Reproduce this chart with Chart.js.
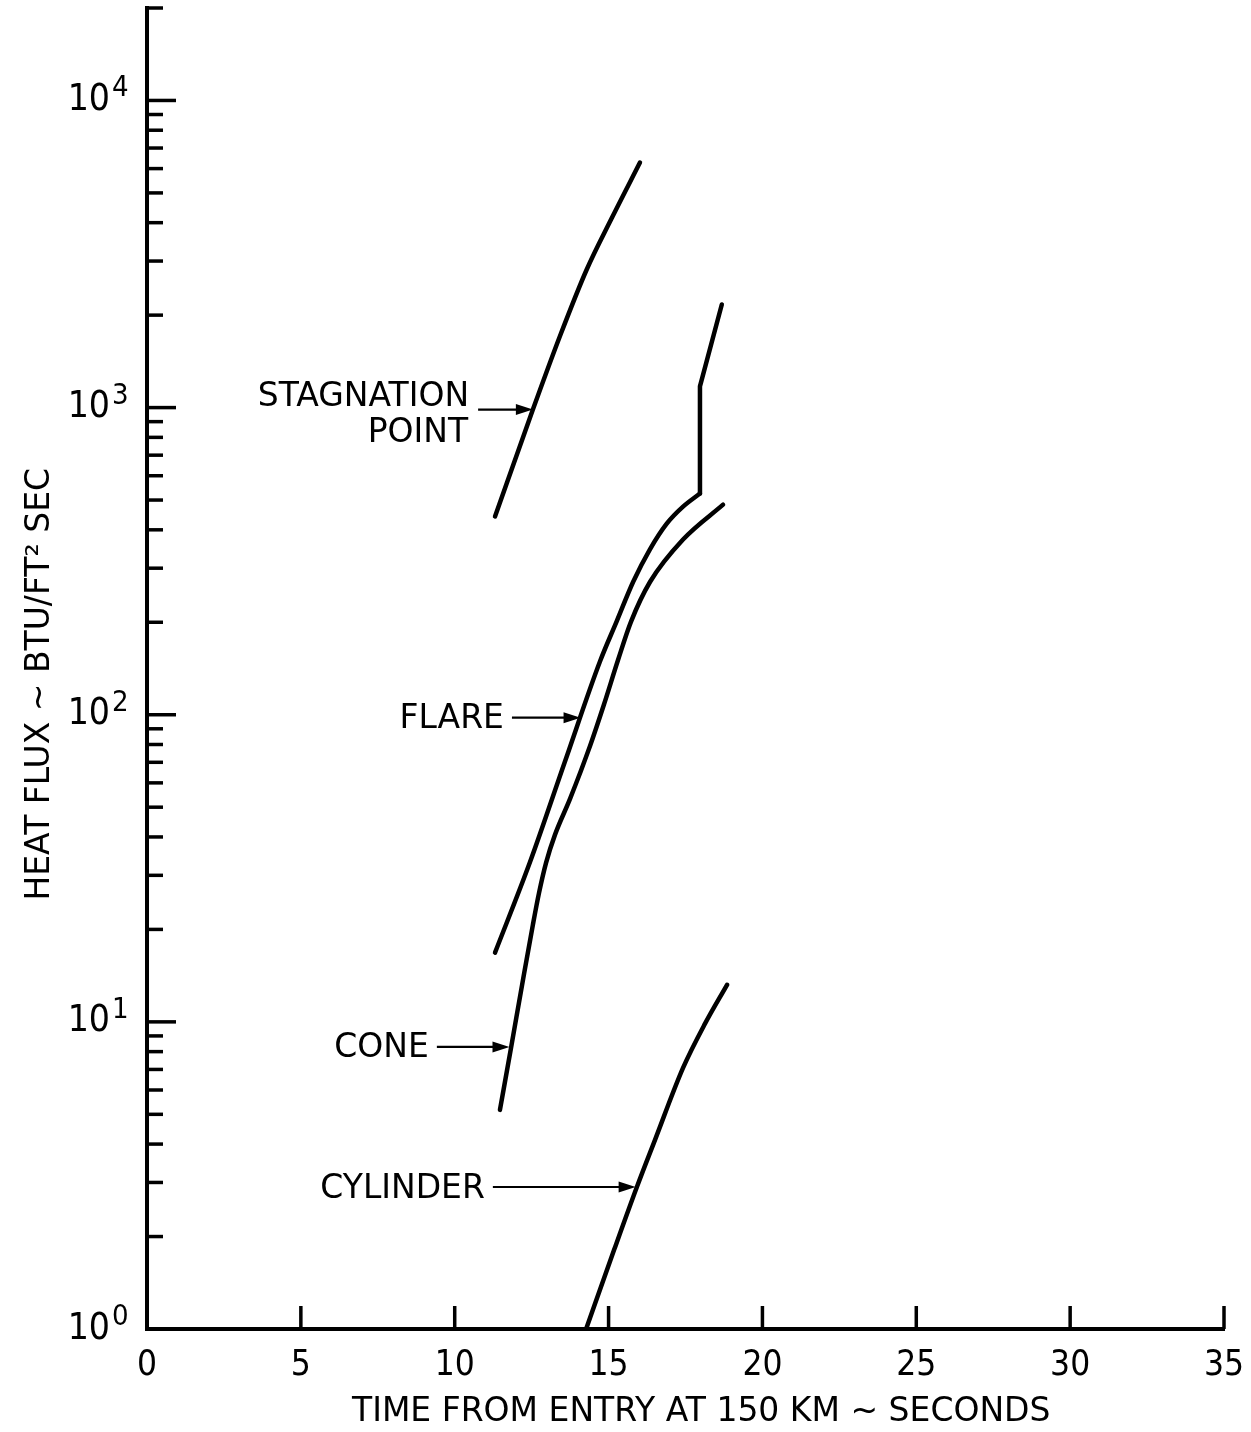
<!DOCTYPE html>
<html>
<head>
<meta charset="utf-8">
<script src="https://cdn.jsdelivr.net/npm/chart.js@4.4.1/dist/chart.umd.min.js"></script>
<style>
html,body{margin:0;padding:0;background:#fff}
canvas{display:block}
</style>
</head>
<body>
<canvas id="c" width="1251" height="1432"></canvas>
<script>
// ---- axis ticks ----
const xTickValues = [0, 5, 10, 15, 20, 25, 30, 35];
const yDecades = [1, 10, 100, 1000, 10000];
const yMinorTicks = [2,3,4,5,6,7,8,9, 20,30,40,50,60,70,80,90, 200,300,400,500,600,700,800,900,
                     2000,3000,4000,5000,6000,7000,8000,9000, 20000];

// ---- series (time s, heat flux BTU/ft^2 s) ----
const stagT = [11.31, 12.54, 13.44, 14.29, 15.08, 16.02];
const stagQ = [442, 985, 1729, 2816, 4096, 6281];

const flareT = [11.31, 12.45, 13.58, 14.72, 15.26, 15.80, 16.34, 16.89, 17.42, 17.97, 17.97, 18.68];
const flareQ = [16.8, 33.2, 70.3, 149, 201, 271, 345, 419, 476, 525, 1173, 2166];

const coneT = [11.47, 11.83, 12.19, 12.54, 12.74, 12.97, 13.26, 13.75, 14.40, 14.85, 15.31, 15.73, 16.35, 17.42, 18.72];
const coneQ = [5.17, 8.23, 13.2, 20.7, 26.3, 33.0, 40.7, 53.3, 79.3, 108, 151, 201, 271, 372, 483];

const cylT = [14.27, 15.18, 15.92, 16.51, 17.42, 18.13, 18.85];
const cylQ = [1.0, 1.81, 2.90, 4.13, 7.08, 9.85, 13.2];

// ---- callout labels ----
const labelLines = [['STAGNATION', 'POINT'], ['FLARE'], ['CONE'], ['CYLINDER']];
const arrowFromT = [10.76, 11.86, 9.42, 11.24];
const arrowToT   = [12.54, 14.09, 11.78, 15.88];
const arrowAtQ   = [985, 97.8, 8.29, 2.90];

const zip = (t, q) => t.map((v, i) => ({x: v, y: q[i]}));
const flareBend = 9; // index where the smooth part ends and the kinked part starts

const TITLE_FONT = 'DejaVu Sans';
const NUM_FONT = '"Liberation Sans Narrow", "DejaVu Sans Condensed", sans-serif';

const lineStyle = {
  borderColor: '#000',
  borderWidth: 4.5,
  pointRadius: 0,
  borderCapStyle: 'round',
  borderJoinStyle: 'round',
  fill: false
};

const plotExtras = {
  id: 'plotExtras',
  afterDraw(chart) {
    const {ctx, chartArea: a, scales: {x, y}} = chart;
    ctx.save();
    ctx.strokeStyle = '#000';
    ctx.fillStyle = '#000';
    ctx.lineCap = 'butt';
    ctx.lineWidth = 3.5;
    const seg = (x1, y1, x2, y2) => { ctx.beginPath(); ctx.moveTo(x1, y1); ctx.lineTo(x2, y2); ctx.stroke(); };

    // inward tick marks
    yMinorTicks.forEach(v => { const py = y.getPixelForValue(v); seg(a.left, py, a.left + 16, py); });
    yDecades.forEach(v => { const py = y.getPixelForValue(v); seg(a.left, py, a.left + 29, py); });
    xTickValues.filter(v => v > 0).forEach(v => { const px = x.getPixelForValue(v); seg(px, a.bottom, px, a.bottom - 23); });

    // y tick labels 10^n
    yDecades.forEach(v => {
      const py = y.getPixelForValue(v);
      ctx.font = '37px ' + NUM_FONT;
      ctx.textAlign = 'right';
      ctx.textBaseline = 'middle';
      ctx.fillText('10', a.left - 37, py);
      ctx.font = '29px ' + NUM_FONT;
      ctx.textAlign = 'left';
      ctx.textBaseline = 'alphabetic';
      ctx.fillText(String(Math.round(Math.log10(v))), a.left - 35, py - 4);
    });

    // callouts with arrows
    ctx.lineWidth = 2.2;
    labelLines.forEach((lines, i) => {
      const x0 = x.getPixelForValue(arrowFromT[i]);
      const x1 = x.getPixelForValue(arrowToT[i]);
      const py = y.getPixelForValue(arrowAtQ[i]);
      seg(x0, py, x1 - 10, py);
      ctx.beginPath();
      ctx.moveTo(x1, py);
      ctx.lineTo(x1 - 17, py - 5.5);
      ctx.lineTo(x1 - 17, py + 5.5);
      ctx.closePath();
      ctx.fill();
      ctx.font = '33px ' + TITLE_FONT;
      ctx.textAlign = 'right';
      ctx.textBaseline = 'middle';
      if (lines.length === 1) {
        ctx.fillText(lines[0], x0 - 8, py + 2);
      } else {
        ctx.fillText(lines[0], x0 - 9, py - 12);
        ctx.fillText(lines[1], x0 - 10, py + 24);
      }
    });
    ctx.restore();
  }
};

const smooth = {tension: 0.4, cubicInterpolationMode: 'monotone'};

new Chart(document.getElementById('c'), {
  type: 'line',
  data: {
    datasets: [
      {label: 'Stagnation point', data: zip(stagT, stagQ), ...smooth, ...lineStyle},
      {label: 'Flare', data: zip(flareT, flareQ).slice(0, flareBend + 1), ...smooth, ...lineStyle},
      {label: 'Flare (kink)', data: zip(flareT, flareQ).slice(flareBend), tension: 0, ...lineStyle},
      {label: 'Cone', data: zip(coneT, coneQ), ...smooth, ...lineStyle},
      {label: 'Cylinder', data: zip(cylT, cylQ), ...smooth, ...lineStyle}
    ]
  },
  options: {
    responsive: false,
    animation: false,
    devicePixelRatio: 1,
    layout: {padding: {top: 8, right: 27, left: 0, bottom: 0}},
    plugins: {legend: {display: false}, tooltip: {enabled: false}},
    scales: {
      x: {
        type: 'linear',
        min: 0, max: 35,
        afterBuildTicks: s => { s.ticks = xTickValues.map(v => ({value: v})); },
        ticks: {color: '#000', font: {family: NUM_FONT, size: 35}, padding: 16, maxRotation: 0,
                callback: v => String(v)},
        grid: {display: false, drawTicks: false},
        border: {display: true, color: '#000', width: 4},
        title: {display: true, text: '   TIME FROM ENTRY AT 150 KM ~ SECONDS', color: '#000',
                font: {family: TITLE_FONT, size: 33}, padding: {top: 0, bottom: 0}},
        afterFit: s => { s.height = 103; s.paddingLeft = 0; s.paddingRight = 0; }
      },
      y: {
        type: 'logarithmic',
        min: 1, max: 20000,
        afterBuildTicks: s => { s.ticks = yDecades.map(v => ({value: v, major: true})); },
        ticks: {display: false},
        grid: {display: false, drawTicks: false},
        border: {display: true, color: '#000', width: 4},
        title: {display: true, text: 'HEAT FLUX ~ BTU/FT\u00B2 SEC   ', color: '#000',
                font: {family: TITLE_FONT, size: 33}, padding: {top: 21, bottom: 0}},
        afterFit: s => { s.width = 147; s.paddingTop = 0; s.paddingBottom = 0; }
      }
    }
  },
  plugins: [plotExtras]
});
</script>
</body>
</html>
